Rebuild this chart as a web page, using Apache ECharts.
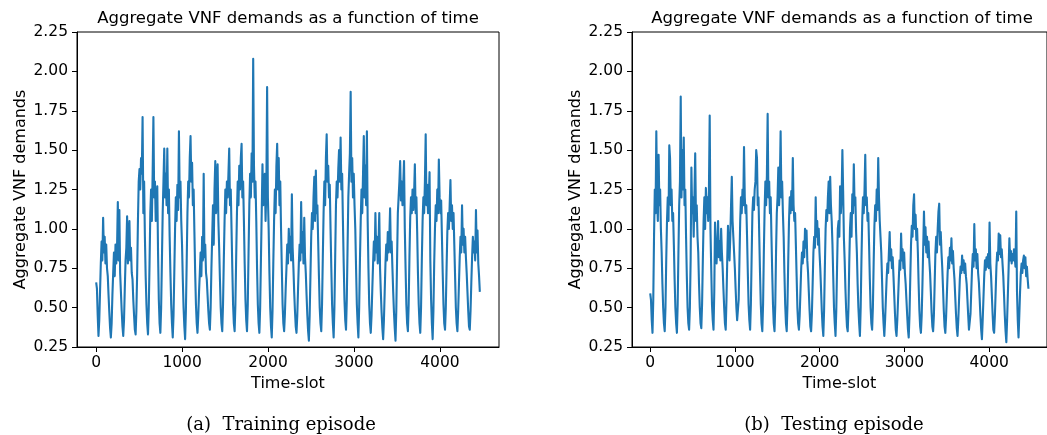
<!DOCTYPE html>
<html>
<head>
<meta charset="utf-8">
<script src="https://cdn.jsdelivr.net/npm/echarts@6/dist/echarts.min.js"></script>
<style>
html,body{margin:0;padding:0;background:#fff;}
#chart{width:1047px;height:435px;}
</style>
</head>
<body>
<div id="chart"></div>
<script>
// ---------- DATA ----------
const titleText = 'Aggregate VNF demands as a function of time';
const yAxisName = 'Aggregate VNF demands';
const xAxisName = 'Time-slot';
const captions = ['(a)  Training episode', '(b)  Testing episode'];
const xTickValues = [0, 1000, 2000, 3000, 4000];
const yMin = 0.25, yMax = 2.25, yStep = 0.25;
const slotStep = 9; // time-slots between stored samples

// Training episode (one row per daily cycle, starting at its trough)
const trainValues = [
  0.66, 0.62, 0.45,
  0.32, 0.42, 0.60, 0.78, 0.92, 0.80, 1.07, 0.85, 0.95, 0.78, 0.90, 0.75, 0.70, 0.58, 0.47, 0.37,
  0.31, 0.40, 0.58, 0.72, 0.85, 0.70, 0.90, 0.78, 0.88, 1.17, 0.80, 1.12, 0.72, 0.60, 0.48, 0.38,
  0.32, 0.42, 0.62, 0.80, 0.88, 1.08, 0.78, 0.90, 1.05, 0.80, 0.88, 0.72, 0.68, 0.55, 0.45, 0.36,
  0.33, 0.48, 0.72, 1.05, 1.30, 1.38, 1.25, 1.45, 1.35, 1.71, 1.10, 1.30, 0.95, 0.70, 0.52, 0.40,
  0.33, 0.50, 0.78, 1.10, 1.25, 1.05, 1.35, 1.71, 1.20, 1.30, 1.05, 1.15, 1.27, 0.85, 0.55, 0.40,
  0.34, 0.50, 0.80, 1.10, 1.30, 1.51, 1.20, 1.35, 1.15, 1.51, 1.10, 1.25, 0.95, 0.72, 0.52, 0.40,
  0.31, 0.45, 0.72, 1.00, 1.20, 1.05, 1.28, 1.12, 1.62, 1.20, 1.30, 1.05, 0.90, 0.68, 0.50, 0.38,
  0.30, 0.48, 0.78, 1.10, 1.30, 1.20, 1.45, 1.59, 1.30, 1.42, 1.15, 1.25, 0.98, 0.72, 0.52, 0.40,
  0.34, 0.45, 0.60, 0.72, 0.85, 0.70, 0.95, 0.80, 1.35, 0.82, 0.90, 0.72, 0.68, 0.58, 0.48, 0.40,
  0.36, 0.50, 0.75, 0.95, 1.15, 0.90, 1.25, 1.43, 1.10, 1.30, 1.41, 1.05, 0.88, 0.68, 0.50, 0.40,
  0.35, 0.52, 0.80, 1.05, 1.25, 1.10, 1.30, 1.20, 1.35, 1.51, 1.15, 1.25, 1.00, 0.75, 0.52, 0.40,
  0.35, 0.52, 0.82, 1.10, 1.30, 1.15, 1.40, 1.25, 1.45, 1.54, 1.20, 1.30, 1.05, 0.78, 0.55, 0.42,
  0.35, 0.52, 0.85, 1.15, 1.35, 1.20, 1.48, 1.30, 2.08, 1.40, 1.20, 1.30, 1.05, 0.75, 0.52, 0.40,
  0.34, 0.50, 0.80, 1.10, 1.41, 1.15, 1.30, 1.35, 1.05, 1.25, 1.90, 1.20, 1.00, 0.72, 0.50, 0.38,
  0.31, 0.48, 0.78, 1.05, 1.25, 1.10, 1.40, 1.54, 1.25, 1.45, 1.15, 1.30, 1.00, 0.75, 0.52, 0.40,
  0.35, 0.46, 0.62, 0.75, 0.90, 0.78, 1.00, 0.85, 0.95, 0.80, 1.22, 0.88, 0.75, 0.60, 0.48, 0.38,
  0.34, 0.45, 0.62, 0.78, 0.90, 0.80, 1.17, 0.85, 0.98, 0.78, 1.07, 0.82, 0.72, 0.58, 0.45, 0.35,
  0.29, 0.45, 0.70, 0.95, 1.10, 1.00, 1.20, 1.33, 1.05, 1.37, 1.10, 1.15, 0.92, 0.70, 0.50, 0.40,
  0.35, 0.52, 0.82, 1.10, 1.30, 1.15, 1.45, 1.60, 1.30, 1.40, 1.20, 1.28, 1.00, 0.75, 0.52, 0.40,
  0.31, 0.50, 0.82, 1.15, 1.30, 1.20, 1.38, 1.50, 1.30, 1.58, 1.25, 1.35, 1.05, 0.78, 0.55, 0.42,
  0.36, 0.55, 0.88, 1.20, 1.35, 1.48, 1.87, 1.30, 1.45, 1.20, 1.35, 1.15, 1.00, 0.75, 0.52, 0.40,
  0.31, 0.50, 0.80, 1.05, 1.25, 1.10, 1.35, 1.59, 1.20, 1.40, 1.15, 1.62, 1.05, 0.75, 0.52, 0.40,
  0.34, 0.45, 0.62, 0.78, 0.92, 0.80, 1.10, 0.85, 0.95, 0.78, 0.90, 1.10, 0.75, 0.60, 0.47, 0.37,
  0.30, 0.42, 0.60, 0.78, 0.90, 0.80, 0.98, 0.85, 0.95, 1.13, 0.85, 0.92, 0.75, 0.60, 0.47, 0.37,
  0.29, 0.48, 0.80, 1.10, 1.20, 1.30, 1.43, 1.18, 1.30, 1.15, 1.28, 1.43, 1.00, 0.75, 0.52, 0.40,
  0.35, 0.52, 0.82, 1.07, 1.20, 1.10, 1.25, 1.12, 1.22, 1.41, 1.10, 1.20, 0.98, 0.72, 0.52, 0.40,
  0.34, 0.50, 0.80, 1.05, 1.20, 1.10, 1.30, 1.60, 1.15, 1.28, 1.10, 1.20, 1.36, 0.80, 0.55, 0.40,
  0.30, 0.48, 0.78, 1.00, 1.15, 1.05, 1.25, 1.10, 1.44, 1.20, 1.10, 1.18, 0.95, 0.72, 0.52, 0.40,
  0.36, 0.50, 0.75, 0.98, 1.10, 1.00, 1.15, 1.31, 1.05, 1.15, 1.00, 1.10, 0.90, 0.70, 0.50, 0.40,
  0.35, 0.48, 0.65, 0.82, 0.95, 0.85, 1.15, 0.90, 1.00, 0.85, 0.95, 0.82, 0.72, 0.60, 0.48, 0.38,
  0.36, 0.48, 0.66, 0.82, 0.95, 0.85, 0.92, 0.80, 1.12, 0.85, 0.99, 0.78, 0.70, 0.60
];

// Testing episode
const testValues = [
  0.59, 0.55, 0.42,
  0.34, 0.55, 0.95, 1.25, 1.10, 1.62, 1.20, 1.05, 1.47, 1.15, 1.25, 1.00, 0.85, 0.65, 0.50, 0.40,
  0.35, 0.50, 0.80, 1.05, 1.20, 1.05, 1.53, 1.45, 1.15, 1.25, 1.05, 1.10, 0.90, 0.68, 0.50, 0.40,
  0.34, 0.52, 0.85, 1.15, 1.30, 1.84, 1.20, 1.50, 1.25, 1.58, 1.15, 1.25, 0.95, 0.70, 0.50, 0.40,
  0.36, 0.50, 0.80, 1.39, 1.10, 1.20, 0.95, 1.22, 1.48, 1.05, 1.15, 0.95, 0.85, 0.65, 0.50, 0.40,
  0.37, 0.52, 0.80, 1.05, 1.20, 1.00, 1.26, 1.10, 1.20, 1.05, 1.25, 1.72, 1.00, 0.75, 0.52, 0.42,
  0.36, 0.60, 1.04, 0.85, 0.78, 0.90, 1.05, 0.82, 0.92, 0.80, 1.00, 0.85, 0.75, 0.62, 0.50, 0.40,
  0.36, 0.55, 0.80, 1.02, 0.90, 0.80, 0.95, 1.15, 1.33, 1.05, 0.95, 0.85, 0.75, 0.62, 0.50, 0.42,
  0.41, 0.55, 0.80, 1.05, 1.20, 1.10, 1.25, 1.15, 1.52, 1.20, 1.10, 1.15, 0.95, 0.72, 0.52, 0.42,
  0.36, 0.52, 0.82, 1.10, 1.20, 1.12, 1.25, 1.30, 1.50, 1.45, 1.15, 1.20, 0.95, 0.72, 0.52, 0.40,
  0.35, 0.52, 0.85, 1.12, 1.30, 1.15, 1.34, 1.73, 1.20, 1.30, 1.10, 1.20, 0.95, 0.72, 0.52, 0.40,
  0.35, 0.52, 0.85, 1.10, 1.20, 1.39, 1.15, 1.30, 1.62, 1.20, 1.30, 1.10, 0.95, 0.72, 0.52, 0.40,
  0.35, 0.52, 0.80, 1.05, 1.20, 1.10, 1.24, 1.12, 1.45, 1.15, 1.05, 1.10, 0.90, 0.70, 0.50, 0.40,
  0.36, 0.45, 0.60, 0.75, 0.85, 0.78, 0.92, 0.82, 1.00, 0.88, 0.99, 0.80, 0.72, 0.60, 0.48, 0.38,
  0.35, 0.46, 0.65, 0.85, 0.95, 0.88, 1.20, 0.95, 1.05, 0.90, 1.00, 0.85, 0.75, 0.62, 0.48, 0.38,
  0.32, 0.48, 0.75, 1.00, 1.12, 1.05, 1.20, 1.30, 1.10, 1.33, 1.15, 1.05, 0.90, 0.70, 0.50, 0.40,
  0.32, 0.48, 0.75, 1.00, 1.05, 0.95, 1.27, 1.10, 1.20, 1.50, 1.24, 0.94, 0.80, 0.62, 0.48, 0.38,
  0.35, 0.50, 0.78, 1.00, 1.10, 0.95, 1.22, 1.10, 1.41, 1.15, 1.20, 0.98, 0.85, 0.65, 0.50, 0.40,
  0.32, 0.50, 0.80, 1.05, 1.20, 1.10, 1.24, 1.47, 1.15, 1.20, 1.05, 1.10, 0.90, 0.68, 0.50, 0.40,
  0.36, 0.50, 0.78, 1.02, 1.15, 1.05, 1.25, 1.12, 1.45, 1.20, 1.05, 0.95, 0.85, 0.68, 0.50, 0.40,
  0.32, 0.42, 0.55, 0.68, 0.78, 0.72, 0.85, 0.98, 0.80, 0.87, 0.75, 0.82, 0.70, 0.58, 0.46, 0.36,
  0.32, 0.42, 0.55, 0.68, 0.80, 0.74, 0.97, 0.80, 0.87, 0.75, 0.85, 0.72, 0.65, 0.55, 0.45, 0.36,
  0.31, 0.45, 0.68, 0.90, 1.02, 0.95, 1.15, 1.22, 1.00, 1.09, 0.93, 1.00, 0.85, 0.65, 0.48, 0.38,
  0.34, 0.45, 0.65, 0.88, 1.11, 0.90, 1.01, 0.85, 0.95, 0.82, 0.92, 0.80, 0.72, 0.60, 0.47, 0.38,
  0.35, 0.45, 0.65, 0.85, 0.95, 0.85, 1.00, 1.11, 1.16, 0.90, 0.98, 0.85, 0.75, 0.62, 0.48, 0.38,
  0.34, 0.44, 0.58, 0.72, 0.82, 0.75, 0.88, 0.80, 0.94, 0.78, 0.86, 0.75, 0.68, 0.57, 0.46, 0.37,
  0.32, 0.42, 0.55, 0.68, 0.76, 0.72, 0.83, 0.74, 0.80, 0.72, 0.78, 0.70, 0.65, 0.55, 0.45, 0.36,
  0.37, 0.46, 0.60, 0.74, 0.84, 0.76, 1.03, 0.80, 0.87, 0.75, 0.84, 0.72, 0.66, 0.56, 0.45, 0.36,
  0.30, 0.42, 0.56, 0.70, 0.80, 0.74, 0.82, 0.76, 0.84, 0.75, 1.04, 0.78, 0.70, 0.58, 0.46, 0.36,
  0.34, 0.45, 0.60, 0.76, 0.85, 0.80, 0.97, 0.84, 0.96, 0.82, 0.87, 0.78, 0.70, 0.58, 0.45, 0.35,
  0.28, 0.42, 0.58, 0.75, 0.94, 0.80, 0.86, 0.78, 0.84, 0.80, 0.87, 0.82, 0.76, 1.11, 0.60, 0.42,
  0.31, 0.45, 0.60, 0.72, 0.78, 0.72, 0.80, 0.83, 0.75, 0.82, 0.70, 0.76, 0.68, 0.62
];

// ---------- CHART ----------
const toPairs = vals => vals.map((v, i) => [i * slotStep, v]);
const chart = echarts.init(document.getElementById('chart'), null, {renderer: 'canvas'});
const black = '#000';
const lineColor = '#1f77b4';
const panels = [
  {left: 77, width: 422, xMin: -223, xMax: 4687, center: 288, capX: 281},
  {left: 632, width: 422, xMin: -215, xMax: 4683, center: 842, capX: 834}
];

function xAxisFor(i, p) {
  return {
    type: 'value', gridIndex: i, min: p.xMin, max: p.xMax,
    name: xAxisName, nameLocation: 'middle', nameGap: 27,
    nameTextStyle: {fontFamily: 'DejaVu Sans', fontSize: 16, color: black},
    axisLine: {show: true, onZero: false, lineStyle: {color: black, width: 1}},
    axisTick: {show: true, inside: false, length: 5, lineStyle: {color: black, width: 1}, customValues: xTickValues},
    axisLabel: {show: true, margin: 8, fontFamily: 'DejaVu Sans', fontSize: 15.5, color: black,
      customValues: xTickValues, formatter: v => String(v)},
    splitLine: {show: false}
  };
}
function yAxisFor(i) {
  return {
    type: 'value', gridIndex: i, min: yMin, max: yMax, interval: yStep,
    name: yAxisName, nameLocation: 'middle', nameGap: 48,
    nameTextStyle: {fontFamily: 'DejaVu Sans', fontSize: 16, color: black},
    axisLine: {show: true, onZero: false, lineStyle: {color: black, width: 1}},
    axisTick: {show: true, inside: false, length: 5, lineStyle: {color: black, width: 1}},
    axisLabel: {show: true, margin: 9, fontFamily: 'DejaVu Sans', fontSize: 15.5, color: black,
      formatter: v => v.toFixed(2)},
    splitLine: {show: false}
  };
}

const option = {
  animation: false,
  backgroundColor: '#fff',
  grid: panels.map(p => ({left: p.left, top: 32, width: p.width, height: 315,
    show: true, borderColor: black, borderWidth: 1, backgroundColor: 'transparent', containLabel: false})),
  xAxis: panels.map((p, i) => xAxisFor(i, p)),
  yAxis: panels.map((p, i) => yAxisFor(i)),
  series: [trainValues, testValues].map((vals, i) => ({
    type: 'line', xAxisIndex: i, yAxisIndex: i, data: toPairs(vals),
    showSymbol: false, symbol: 'none', smooth: false, sampling: null,
    lineStyle: {color: lineColor, width: 2.1, join: 'round'}
  })),
  graphic: [].concat(
    panels.map(p => ({type: 'text', x: p.center, y: 10,
      style: {text: titleText, fill: black, font: '16.5px "DejaVu Sans"', textAlign: 'center', textVerticalAlign: 'top'}})),
    panels.map((p, i) => ({type: 'text', x: p.capX, y: 425,
      style: {text: captions[i], fill: black, font: '18px "DejaVu Serif"', textAlign: 'center', textVerticalAlign: 'middle'}}))
  )
};
chart.setOption(option);
</script>
</body>
</html>
